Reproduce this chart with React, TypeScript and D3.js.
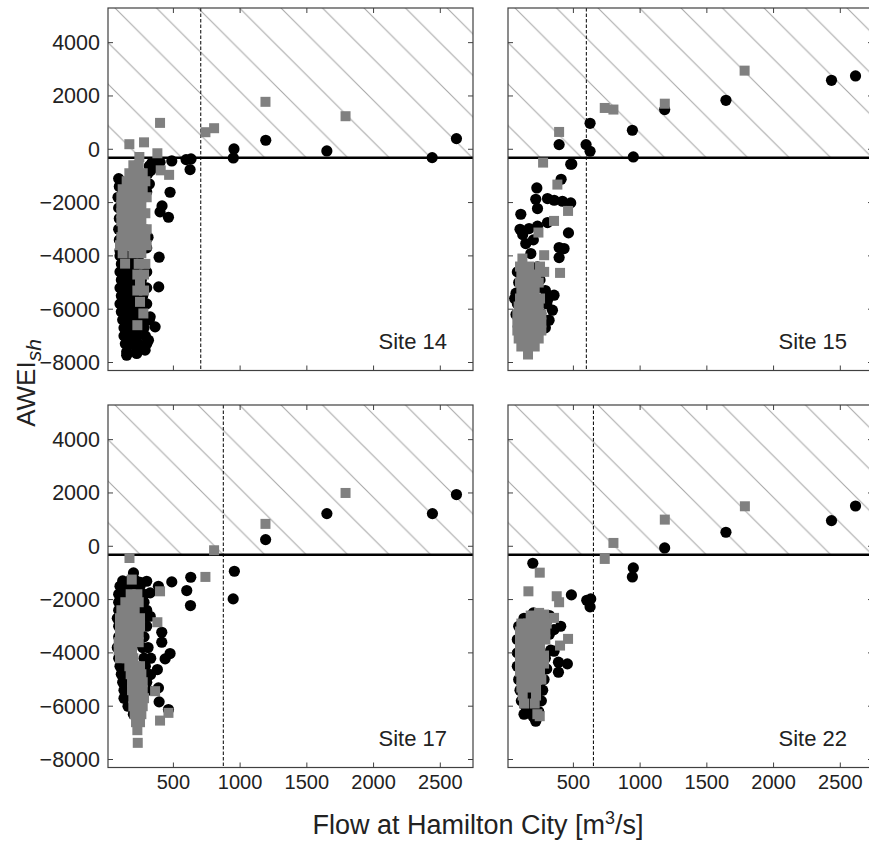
import * as d3 from "d3";

// ---- data ----
const SITES = ["Site 14", "Site 15", "Site 17", "Site 22"];
const DASHED_FLOW = [705, 597, 874, 650]; // vertical dashed marker per site
const AWEI_THRESHOLD = -320;

const X_TICKS = [500, 1000, 1500, 2000, 2500];
const Y_TICKS = [-8000, -6000, -4000, -2000, 0, 2000, 4000];

type Pt = [number, number];

const site14Black: Pt[] = [
  [2621, 400], [2439, -313], [1650, -63], [1192, 338], [954, 13], [949, -325],
  [632, -363], [625, -763], [595, -388], [488, -438], [400, -488], [320, -625],
  [340, -500], [370, -650], [330, -800], [310, -900], [475, -1613], [415, -2125],
  [400, -2350], [463, -2550], [393, -4050], [390, -5163], [363, -6662], [326, -6287],
  [313, -7162], [288, -7537], [225, -7662], [150, -7725],
  [90, -1100], [95, -1400], [85, -1800], [90, -2200], [95, -2600], [90, -3000],
  [95, -3400], [100, -3800], [280, -1000], [320, -1300], [300, -1600], [310, -3300], [300, -3700],
  [100, -4000], [150, -4000], [190, -4000], [240, -4000],
  [110, -4300], [170, -4300], [210, -4300], [260, -4300],
  [100, -4600], [150, -4600], [200, -4600], [250, -4600], [300, -4600],
  [110, -4900], [160, -4900], [210, -4900], [260, -4900],
  [100, -5200], [150, -5200], [200, -5200], [250, -5200], [300, -5200],
  [110, -5500], [160, -5500], [210, -5500], [270, -5500],
  [100, -5800], [150, -5800], [200, -5800], [250, -5800], [300, -5800],
  [110, -6100], [160, -6100], [210, -6100], [260, -6100],
  [120, -6400], [170, -6400], [220, -6400], [270, -6400], [320, -6400],
  [130, -6700], [180, -6700], [230, -6700], [280, -6700],
  [130, -7000], [180, -7000], [230, -7000], [290, -7000],
  [140, -7300], [190, -7300], [240, -7300], [300, -7300],
  [150, -7600], [220, -7600],
];

const site14Gray: Pt[] = [
  [400, 990], [1190, 1780], [1790, 1240], [740, 640], [805, 790], [170, 190],
  [280, 260], [380, -150], [245, -290], [405, -790], [468, -960],
  [200, -600], [240, -600],
  [170, -900], [220, -900], [270, -900],
  [150, -1200], [200, -1200], [250, -1200], [290, -1200],
  [120, -1500], [170, -1500], [220, -1500], [270, -1500],
  [110, -1800], [160, -1800], [210, -1800], [260, -1800], [300, -1800],
  [110, -2100], [160, -2100], [210, -2100], [260, -2100],
  [110, -2400], [150, -2400], [200, -2400], [250, -2400], [290, -2400],
  [110, -2700], [160, -2700], [210, -2700], [260, -2700],
  [120, -3000], [170, -3000], [220, -3000], [270, -3000], [300, -3000],
  [110, -3300], [160, -3300], [210, -3300], [260, -3300], [290, -3300],
  [100, -3600], [150, -3600], [200, -3600], [250, -3600], [300, -3600],
  [120, -3900], [200, -3900], [260, -3900],
  [138, -4290], [240, -4300], [290, -4300],
  [230, -4700], [280, -4700], [250, -5040], [230, -5300], [280, -5300],
  [250, -5725], [275, -6160], [230, -6600],
];

const site15Black: Pt[] = [
  [2614, 2750], [2434, 2588], [1643, 1838], [1184, 1488], [942, 713], [949, -288],
  [625, 975], [595, 175], [625, -75], [393, 175], [488, -550], [480, -562],
  [408, -1125], [226, -1450], [218, -1875], [306, -1850], [356, -1912], [418, -1950],
  [480, -2012], [231, -2225], [106, -2437], [168, -2975], [231, -2887], [306, -2750],
  [463, -3138], [393, -3687], [430, -3725], [393, -4062], [143, -3537], [181, -3912],
  [231, -4412], [355, -5475], [343, -6037], [318, -6412], [106, -5350], [93, -5787],
  [106, -6162], [306, -5662], [256, -6162], [120, -3200], [100, -3000], [200, -3400],
  [80, -4600], [90, -5000], [70, -5400], [80, -5800], [290, -5300], [300, -5800],
  [280, -6400], [250, -4900], [230, -5200], [150, -4800], [70, -6200], [120, -4400],
  [200, -4500], [60, -5600], [290, -6700], [90, -6600], [100, -7000],
];

const site15Gray: Pt[] = [
  [1783, 2950], [1185, 1710], [735, 1550], [800, 1490], [393, 650], [273, -500],
  [380, -1325], [460, -2313], [355, -2688], [238, -3125], [281, -3975], [400, -4638],
  [118, -4100], [281, -4600],
  [100, -4400], [170, -4400], [250, -4400],
  [110, -4700], [160, -4700], [220, -4700],
  [100, -5000], [150, -5000], [200, -5000], [240, -5000],
  [110, -5300], [160, -5300], [210, -5300],
  [100, -5600], [150, -5600], [200, -5600], [250, -5600],
  [90, -5900], [140, -5900], [190, -5900], [240, -5900],
  [80, -6200], [130, -6200], [180, -6200], [230, -6200], [260, -6200],
  [80, -6500], [130, -6500], [180, -6500], [230, -6500], [260, -6500],
  [80, -6800], [130, -6800], [180, -6800], [230, -6800], [260, -6800],
  [90, -7100], [140, -7100], [190, -7100], [240, -7100],
  [110, -7400], [160, -7400], [210, -7400],
  [160, -7700],
];

const site17Black: Pt[] = [
  [2621, 1940], [2441, 1225], [1650, 1225], [1191, 250], [957, -937], [948, -1975],
  [630, -1162], [600, -1662], [628, -2225], [488, -1337], [201, -1000], [413, -3225],
  [413, -3600], [475, -4025], [438, -4225], [380, -4625], [329, -4813], [388, -5312],
  [393, -5837], [463, -6125], [326, -2625], [113, -1562], [251, -1350], [300, -1312],
  [388, -1500], [326, -1750],
  [120, -1300], [170, -1300], [220, -1300],
  [100, -1500], [150, -1500], [200, -1500], [250, -1500],
  [90, -1800], [130, -1800], [280, -1800],
  [90, -2100], [280, -2100],
  [90, -2400], [260, -2400], [300, -2400],
  [80, -2700], [290, -2700],
  [90, -3000], [300, -3000],
  [90, -3400], [280, -3400],
  [80, -3800], [270, -3800], [310, -3800],
  [90, -4200], [280, -4200], [330, -4200],
  [100, -4500], [140, -4500], [290, -4500],
  [110, -4800], [150, -4800], [300, -4800],
  [120, -5100], [160, -5100], [300, -5100],
  [130, -5400], [170, -5400], [310, -5400],
  [130, -5700], [180, -5700],
  [160, -6000], [190, -6000],
  [200, -6300],
];

const site17Gray: Pt[] = [
  [1790, 2000], [1190, 840], [805, -150], [740, -1150], [171, -440], [400, -1690],
  [380, -2850], [400, -6540], [463, -6250], [363, -5437], [233, -7375], [188, -1250],
  [180, -1800], [230, -1800],
  [140, -2100], [200, -2100], [240, -2100],
  [110, -2400], [160, -2400], [210, -2400],
  [100, -2700], [150, -2700], [200, -2700], [250, -2700],
  [100, -3000], [150, -3000], [200, -3000], [250, -3000],
  [100, -3300], [150, -3300], [200, -3300], [240, -3300],
  [90, -3600], [140, -3600], [190, -3600], [240, -3600],
  [90, -3900], [140, -3900], [190, -3900],
  [100, -4200], [150, -4200], [200, -4200],
  [170, -4500], [220, -4500], [250, -4500],
  [180, -4800], [230, -4800], [260, -4800],
  [190, -5100], [240, -5100], [270, -5100],
  [190, -5400], [240, -5400], [270, -5400],
  [200, -5700], [250, -5700], [280, -5700],
  [200, -6000], [250, -6000], [270, -6000],
  [210, -6300], [260, -6300],
  [220, -6600], [250, -6600],
  [230, -6900],
];

const site22Black: Pt[] = [
  [2614, 1510], [2434, 963], [1643, 525], [1184, -62], [949, -812], [942, -1150],
  [196, -637], [485, -1825], [600, -2025], [630, -1975], [625, -2275], [405, -3000],
  [355, -3125], [355, -3937], [455, -4412], [388, -4350], [388, -4725], [218, -6562],
  [181, -2625],
  [90, -3000], [80, -3500], [80, -4000], [80, -4500], [90, -5000], [100, -5400],
  [110, -5800], [140, -6000], [170, -6200], [200, -6400], [240, -6200], [260, -5800],
  [200, -5900], [160, -5600], [300, -2800], [320, -3300], [290, -4200], [300, -4600],
  [280, -5000], [270, -5400], [160, -2700], [200, -2500], [130, -2700], [330, -3900],
  [320, -2600], [130, -6300], [230, -5700],
];

const site22Gray: Pt[] = [
  [1785, 1500], [1185, 1000], [800, 125], [735, -475], [248, -990], [163, -1690],
  [375, -1875], [393, -2100], [355, -2687], [460, -3475], [400, -3725], [248, -6375],
  [243, -2500], [281, -2562],
  [180, -2600], [240, -2600],
  [110, -2900], [160, -2900], [210, -2900], [260, -2900], [300, -2900],
  [100, -3200], [150, -3200], [200, -3200], [250, -3200], [290, -3200],
  [100, -3500], [150, -3500], [200, -3500], [250, -3500], [290, -3500],
  [100, -3800], [150, -3800], [200, -3800], [250, -3800],
  [100, -4100], [150, -4100], [200, -4100], [250, -4100], [280, -4100],
  [100, -4400], [150, -4400], [200, -4400], [250, -4400], [280, -4400],
  [100, -4700], [150, -4700], [200, -4700], [250, -4700],
  [110, -5000], [160, -5000], [210, -5000], [260, -5000],
  [110, -5300], [160, -5300], [220, -5300],
  [120, -5600], [220, -5600],
  [130, -5900], [210, -5900],
  [230, -6300],
];

const BLACK = [site14Black, site15Black, site17Black, site22Black];
const GRAY = [site14Gray, site15Gray, site17Gray, site22Gray];

// ---- layout ----
const WIDTH = 869;
const HEIGHT = 843;
const PANEL_W = 365;
const PANEL_H = 362.5;
const LEFTS = [108, 508];
const TOPS = [8, 405];
const FONT = "'Liberation Sans', Arial, Helvetica, sans-serif";

const x = d3.scaleLinear().domain([10, 2745]).range([0, PANEL_W]);
const y = d3.scaleLinear().domain([-8300, 5300]).range([PANEL_H, 0]);

function Panel({ i }: { i: number }) {
  const col = i % 2;
  const row = Math.floor(i / 2);
  const left = LEFTS[col];
  const top = TOPS[row];
  const tick = 5;
  const clipId = `clip-${i}`;
  const yThr = y(AWEI_THRESHOLD);

  return (
    <g transform={`translate(${left},${top})`}>
      <defs>
        <clipPath id={clipId}>
          <rect x={0} y={0} width={PANEL_W} height={PANEL_H} />
        </clipPath>
      </defs>
      <g clipPath={`url(#${clipId})`}>
        {/* hatched region above the threshold */}
        <rect x={0} y={0} width={PANEL_W} height={yThr} fill="url(#hatch)" />
        <line x1={0} x2={PANEL_W} y1={yThr} y2={yThr} stroke="#000" strokeWidth={2.4} />
        <line
          x1={x(DASHED_FLOW[i])}
          x2={x(DASHED_FLOW[i])}
          y1={0}
          y2={PANEL_H}
          stroke="#000"
          strokeWidth={1}
          strokeDasharray="3.5,2"
        />
        {BLACK[i].map(([fx, a], k) => (
          <circle key={`b${k}`} cx={x(fx)} cy={y(a)} r={5.6} fill="#000" />
        ))}
        {GRAY[i].map(([fx, a], k) => (
          <rect key={`g${k}`} x={x(fx) - 5} y={y(a) - 5} width={10} height={10} fill="#808080" />
        ))}
      </g>
      <rect x={0} y={0} width={PANEL_W} height={PANEL_H} fill="none" stroke="#404040" strokeWidth={1.2} />
      {X_TICKS.map((t) => (
        <g key={`xt${t}`} stroke="#404040" strokeWidth={1}>
          <line x1={x(t)} x2={x(t)} y1={PANEL_H} y2={PANEL_H - tick} />
          <line x1={x(t)} x2={x(t)} y1={0} y2={tick} />
        </g>
      ))}
      {Y_TICKS.map((t) => (
        <g key={`yt${t}`} stroke="#404040" strokeWidth={1}>
          <line x1={0} x2={tick} y1={y(t)} y2={y(t)} />
          <line x1={PANEL_W} x2={PANEL_W - tick} y1={y(t)} y2={y(t)} />
        </g>
      ))}
      {col === 0 &&
        Y_TICKS.map((t) => (
          <text
            key={`yl${t}`}
            x={-8}
            y={y(t)}
            dy="0.35em"
            textAnchor="end"
            fontSize={21.5}
            fill="#222"
          >
            {t < 0 ? `\u2212${Math.abs(t)}` : t}
          </text>
        ))}
      {row === 1 &&
        X_TICKS.map((t) => (
          <text key={`xl${t}`} x={x(t)} y={PANEL_H + 21} textAnchor="middle" fontSize={20} fill="#222">
            {t}
          </text>
        ))}
      <text x={PANEL_W - 26} y={PANEL_H - 22} textAnchor="end" fontSize={22} fill="#222">
        {SITES[i]}
      </text>
    </g>
  );
}

export default function App() {
  const s = 41.5;
  return (
    <svg
      width={WIDTH}
      height={HEIGHT}
      style={{ position: "absolute", left: 0, top: 0, background: "#fff" }}
      fontFamily={FONT}
    >
      <defs>
        <pattern id="hatch" patternUnits="userSpaceOnUse" x={7} y={0} width={s} height={s}>
          <path
            d={`M-2,-2 L${s + 2},${s + 2} M${s - 2},-2 L${s + 2},2 M-2,${s - 2} L2,${s + 2}`}
            stroke="#a8a8a8"
            strokeWidth={1.1}
            fill="none"
          />
        </pattern>
      </defs>
      <rect width={WIDTH} height={HEIGHT} fill="#fff" />
      {[0, 1, 2, 3].map((i) => (
        <Panel key={i} i={i} />
      ))}
      <text x={478} y={834} textAnchor="middle" fontSize={27} fill="#222">
        Flow at Hamilton City [m<tspan dy={-10} fontSize={18}>3</tspan>
        <tspan dy={10}>/s]</tspan>
      </text>
      <text
        transform="translate(35,383) rotate(-90)"
        textAnchor="middle"
        fontSize={26}
        fill="#222"
      >
        AWEI
        <tspan dy={6} fontSize={21} fontStyle="italic">
          sh
        </tspan>
      </text>
    </svg>
  );
}
